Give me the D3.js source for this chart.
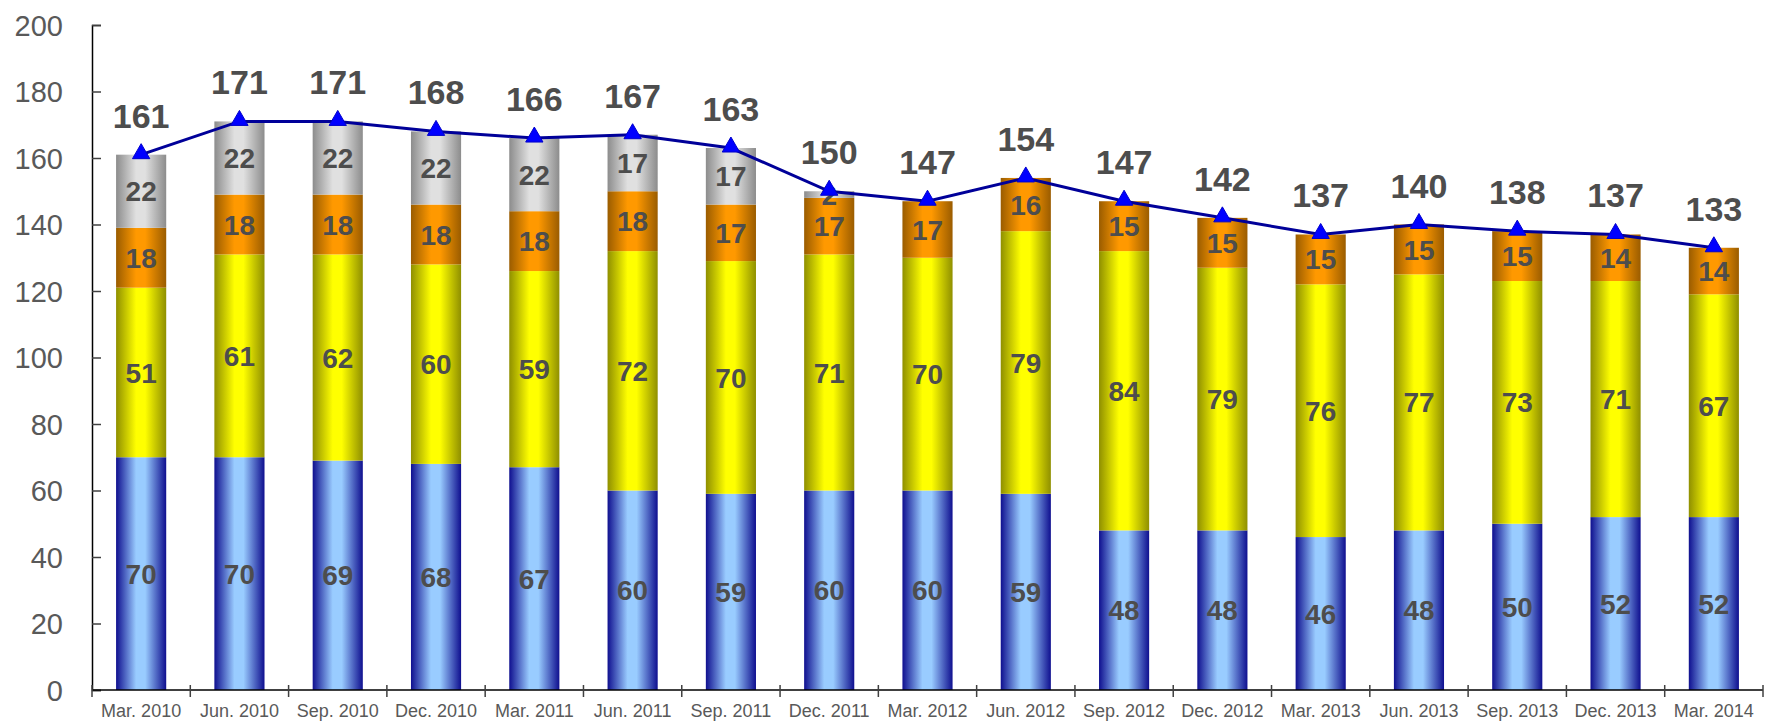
<!DOCTYPE html>
<html lang="en">

<head>
    <meta charset="UTF-8">
    <title>Stacked Bars with Total Line</title>
    <script src="https://d3js.org/d3.v7.min.js"></script>
    <style>
        body {
            margin: 0;
            background: #fff;
            font-family: "Liberation Sans", Arial, sans-serif;
        }

        .y-axis text {
            font-size: 29px;
            fill: #595959;
        }

        .x-labels text {
            font-size: 18px;
            fill: #595959;
        }

        .seg-label {
            font-size: 28px;
            font-weight: bold;
            fill: #4d4d4d;
            text-anchor: middle;
        }

        .total-label {
            font-size: 34px;
            font-weight: bold;
            fill: #4d4d4d;
            text-anchor: middle;
        }
    </style>
</head>

<body>
    <svg id="svg"></svg>

    <script>
        const width = 1765;
        const height = 722;

        // Data
        const quarters = ["Mar. 2010", "Jun. 2010", "Sep. 2010", "Dec. 2010", "Mar. 2011", "Jun. 2011",
            "Sep. 2011", "Dec. 2011", "Mar. 2012", "Jun. 2012", "Sep. 2012", "Dec. 2012",
            "Mar. 2013", "Jun. 2013", "Sep. 2013", "Dec. 2013", "Mar. 2014"];
        const blueValues = [70, 70, 69, 68, 67, 60, 59, 60, 60, 59, 48, 48, 46, 48, 50, 52, 52];
        const yellowValues = [51, 61, 62, 60, 59, 72, 70, 71, 70, 79, 84, 79, 76, 77, 73, 71, 67];
        const orangeValues = [18, 18, 18, 18, 18, 18, 17, 17, 17, 16, 15, 15, 15, 15, 15, 14, 14];
        const greyValues = [22, 22, 22, 22, 22, 17, 17, 2, 0, 0, 0, 0, 0, 0, 0, 0, 0];
        const yTicks = [0, 20, 40, 60, 80, 100, 120, 140, 160, 180, 200];

        const seriesNames = ["blue", "yellow", "orange", "grey"];
        const seriesValues = [blueValues, yellowValues, orangeValues, greyValues];

        // edge colour / centre colour of each bar's horizontal gradient
        const shades = {
            blue: ["#0f0f8f", "#99ccff"],
            yellow: ["#8f8f00", "#ffff00"],
            orange: ["#9a5c00", "#ff9900"],
            grey: ["#8c8c8c", "#e0e0e0"]
        };

        const rows = quarters.map((q, i) => {
            const row = { quarter: q };
            seriesNames.forEach((s, k) => row[s] = seriesValues[k][i]);
            row.total = d3.sum(seriesValues, v => v[i]);
            return row;
        });

        const svg = d3.select("#svg")
            .attr("width", width)
            .attr("height", height);

        const plot = { left: 92, right: 1763, top: 25, bottom: 690 };

        const x = d3.scaleBand()
            .domain(quarters)
            .range([plot.left, plot.right])
            .paddingInner(0.49)
            .paddingOuter(0.245);

        const y = d3.scaleLinear()
            .domain([0, 200])
            .range([plot.bottom, plot.top]);

        // gradients
        const defs = svg.append("defs");
        seriesNames.forEach(s => {
            const g = defs.append("linearGradient")
                .attr("id", "grad-" + s)
                .attr("x1", "0%").attr("x2", "100%")
                .attr("y1", "0%").attr("y2", "0%");
            g.append("stop").attr("offset", "0%").attr("stop-color", shades[s][0]);
            g.append("stop").attr("offset", "40%").attr("stop-color", shades[s][1]);
            g.append("stop").attr("offset", "58%").attr("stop-color", shades[s][1]);
            g.append("stop").attr("offset", "100%").attr("stop-color", shades[s][0]);
        });

        const stacked = d3.stack().keys(seriesNames)(rows);

        // bars
        const layers = svg.append("g").attr("class", "bars")
            .selectAll("g")
            .data(stacked)
            .enter().append("g")
            .attr("fill", d => "url(#grad-" + d.key + ")");

        layers.selectAll("rect")
            .data(d => d.filter(p => p[1] - p[0] > 0))
            .enter().append("rect")
            .attr("x", d => x(d.data.quarter))
            .attr("width", x.bandwidth())
            .attr("y", d => y(d[1]))
            .attr("height", d => y(d[0]) - y(d[1]));

        // y axis
        svg.append("g")
            .attr("class", "y-axis")
            .attr("transform", `translate(${plot.left},0)`)
            .call(d3.axisRight(y).tickValues(yTicks).tickSize(9).tickPadding(0))
            .call(g => g.select(".domain").attr("stroke", "#000").attr("stroke-width", 1.5))
            .call(g => g.selectAll(".tick line").attr("stroke", "#404040").attr("stroke-width", 1.5))
            .call(g => g.selectAll(".tick text")
                .attr("x", -29)
                .attr("text-anchor", "end")
                .attr("dy", "0.36em"));

        // x axis: baseline, boundary ticks and labels
        const bounds = d3.scaleLinear().domain([0, quarters.length]).range([plot.left, plot.right]);
        const xAxis = svg.append("g").attr("class", "x-axis");
        xAxis.append("line")
            .attr("x1", plot.left).attr("x2", plot.right)
            .attr("y1", plot.bottom).attr("y2", plot.bottom)
            .attr("stroke", "#000").attr("stroke-width", 1.5);
        xAxis.selectAll(".xtick")
            .data(d3.range(quarters.length + 1))
            .enter().append("line")
            .attr("class", "xtick")
            .attr("x1", d => bounds(d)).attr("x2", d => bounds(d))
            .attr("y1", plot.bottom - 5).attr("y2", plot.bottom + 7)
            .attr("stroke", "#404040").attr("stroke-width", 1.5);

        svg.append("g").attr("class", "x-labels")
            .selectAll("text")
            .data(quarters)
            .enter().append("text")
            .attr("x", d => x(d) + x.bandwidth() / 2)
            .attr("y", 717)
            .attr("text-anchor", "middle")
            .text(d => d);

        // segment labels
        layers.selectAll(".seg-label")
            .data(d => d.filter(p => p[1] - p[0] > 0))
            .enter().append("text")
            .attr("class", "seg-label")
            .attr("x", d => x(d.data.quarter) + x.bandwidth() / 2)
            .attr("y", d => (y(d[0]) + y(d[1])) / 2)
            .attr("dy", "0.36em")
            .text(d => d[1] - d[0]);

        // total line
        const line = d3.line()
            .x(d => x(d.quarter) + x.bandwidth() / 2)
            .y(d => y(d.total));

        svg.append("path")
            .datum(rows)
            .attr("d", line)
            .attr("fill", "none")
            .attr("stroke", "#000099")
            .attr("stroke-width", 3);

        svg.append("g").selectAll("path")
            .data(rows)
            .enter().append("path")
            .attr("d", d3.symbol().type(d3.symbolTriangle).size(130))
            .attr("transform", d => `translate(${x(d.quarter) + x.bandwidth() / 2},${y(d.total) - 1})`)
            .attr("fill", "#0000ff")
            .attr("stroke", "#0000cc")
            .attr("stroke-width", 1);

        svg.append("g").selectAll("text")
            .data(rows)
            .enter().append("text")
            .attr("class", "total-label")
            .attr("x", d => x(d.quarter) + x.bandwidth() / 2)
            .attr("y", d => y(d.total) - 27)
            .text(d => d.total);
    </script>

</body>

</html>
